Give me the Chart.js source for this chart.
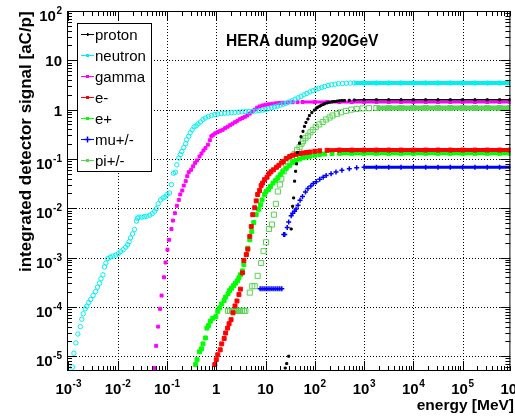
<!DOCTYPE html>
<html>
<head>
<meta charset="utf-8">
<script src="https://cdn.jsdelivr.net/npm/chart.js@4"></script>
<style>
  html, body { margin: 0; padding: 0; background: #fff; }
  canvas { display: block; }
</style>
</head>
<body>
<canvas id="dump" width="515" height="418"></canvas>
<script>
// Integrated signal per particle type, rows are [log10(E / MeV), log10(signal / aC/p)]
const proton = [
  [1.40,-5.24],[1.43,-5.15],[1.47,-5.00],[1.52,-2.42],[1.55,-1.96],[1.57,-1.79],[1.59,-1.45],
  [1.61,-1.25],[1.63,-1.10],[1.65,-0.87],[1.69,-0.68],[1.72,-0.55],[1.76,-0.44],[1.79,-0.34],
  [1.82,-0.26],[1.86,-0.19],[1.89,-0.12],[1.94,-0.06],[1.99,-0.01],[2.03,0.03],[2.06,0.05],
  [2.10,0.07],[2.13,0.09],[2.17,0.105],[2.20,0.12],[2.25,0.135],[2.30,0.15],[2.35,0.158],
  [2.40,0.165],[2.45,0.172],[2.50,0.18],[2.55,0.183],[2.60,0.186],[2.70,0.19],[2.80,0.195],
  [3.00,0.20],[3.25,0.20],[3.50,0.20],[3.75,0.20],[4.00,0.20],[4.25,0.20],[4.50,0.20],
  [4.75,0.20],[5.00,0.20],[5.25,0.20],[5.50,0.20],[5.75,0.20],[5.96,0.20]
];
const neutron = [
  [-2.92,-5.22],[-2.89,-4.94],[-2.85,-4.73],[-2.81,-4.55],[-2.76,-4.40],[-2.73,-4.25],[-2.70,-4.14],
  [-2.66,-4.04],[-2.63,-3.99],[-2.59,-3.91],[-2.55,-3.85],[-2.50,-3.77],[-2.45,-3.69],[-2.41,-3.60],
  [-2.37,-3.52],[-2.34,-3.43],[-2.30,-3.35],[-2.27,-3.19],[-2.24,-3.11],[-2.20,-3.02],[-2.15,-2.99],
  [-2.10,-2.97],[-2.04,-2.95],[-1.99,-2.92],[-1.94,-2.88],[-1.89,-2.84],[-1.84,-2.79],[-1.80,-2.74],
  [-1.77,-2.68],[-1.74,-2.60],[-1.70,-2.52],[-1.66,-2.43],[-1.62,-2.26],[-1.60,-2.20],[-1.57,-2.18],
  [-1.51,-2.18],[-1.46,-2.17],[-1.41,-2.16],[-1.35,-2.14],[-1.30,-2.11],[-1.25,-2.06],[-1.22,-2.01],
  [-1.18,-1.91],[-1.13,-1.83],[-1.08,-1.79],[-1.04,-1.77],[-1.00,-1.72],[-0.95,-1.69],[-0.91,-1.52],
  [-0.87,-1.29],[-0.83,-1.27],[-0.80,-1.12],[-0.76,-0.98],[-0.73,-0.91],[-0.70,-0.85],[-0.66,-0.77],
  [-0.62,-0.69],[-0.60,-0.61],[-0.56,-0.54],[-0.53,-0.47],[-0.49,-0.41],[-0.45,-0.35],[-0.41,-0.33],
  [-0.37,-0.29],[-0.32,-0.25],[-0.27,-0.20],[-0.22,-0.17],[-0.16,-0.14],[-0.10,-0.12],[-0.03,-0.10],
  [0.03,-0.09],[0.10,-0.08],[0.17,-0.075],[0.24,-0.07],[0.31,-0.06],[0.38,-0.055],[0.45,-0.05],
  [0.52,-0.045],[0.59,-0.04],[0.66,-0.04],[0.73,-0.035],[0.80,-0.03],[0.87,-0.02],[0.94,-0.01],
  [1.00,0.00],[1.06,0.02],[1.12,0.04],[1.18,0.055],[1.24,0.07],[1.30,0.09],[1.36,0.11],[1.42,0.13],
  [1.48,0.155],[1.54,0.18],[1.60,0.21],[1.66,0.24],[1.72,0.27],[1.78,0.30],[1.84,0.33],[1.90,0.36],
  [1.96,0.385],[2.02,0.41],[2.08,0.43],[2.14,0.45],[2.20,0.47],[2.27,0.49],[2.34,0.505],[2.41,0.515],
  [2.48,0.525],[2.56,0.53],[2.64,0.535],[2.72,0.538],[2.80,0.54],[3.00,0.54],[3.25,0.54],[3.50,0.54],
  [3.75,0.54],[4.00,0.54],[4.25,0.54],[4.50,0.54],[4.75,0.54],[5.00,0.54],[5.25,0.54],[5.50,0.54],
  [5.75,0.54],[5.96,0.54]
];
const gamma = [
  [-1.25,-5.24],[-1.22,-4.79],[-1.18,-4.40],[-1.14,-4.04],[-1.11,-3.77],[-1.06,-3.40],[-1.03,-3.10],
  [-0.99,-2.84],[-0.96,-2.64],[-0.91,-2.42],[-0.88,-2.25],[-0.84,-2.10],[-0.80,-1.95],[-0.76,-1.83],
  [-0.73,-1.72],[-0.69,-1.64],[-0.66,-1.54],[-0.62,-1.45],[-0.59,-1.35],[-0.56,-1.27],[-0.51,-1.22],
  [-0.47,-1.15],[-0.43,-1.08],[-0.39,-1.03],[-0.34,-0.95],[-0.30,-0.89],[-0.26,-0.83],[-0.22,-0.78],
  [-0.17,-0.71],[-0.13,-0.62],[-0.10,-0.54],[-0.06,-0.51],[-0.02,-0.48],[0.03,-0.455],[0.08,-0.43],
  [0.13,-0.41],[0.18,-0.375],[0.23,-0.345],[0.28,-0.315],[0.33,-0.285],[0.38,-0.255],[0.43,-0.225],
  [0.48,-0.195],[0.53,-0.17],[0.58,-0.145],[0.63,-0.12],[0.68,-0.08],[0.73,-0.04],[0.78,0.00],
  [0.83,0.04],[0.88,0.065],[0.94,0.085],[1.00,0.10],[1.07,0.11],[1.14,0.12],[1.21,0.128],
  [1.28,0.135],[1.36,0.14],[1.45,0.145],[1.55,0.15],[1.65,0.152],[1.75,0.155],[2.00,0.155],
  [2.25,0.155],[2.50,0.155],[2.75,0.155],[3.00,0.155],[3.25,0.155],[3.50,0.155],[3.75,0.155],
  [4.00,0.155],[4.25,0.155],[4.50,0.155],[4.75,0.155],[5.00,0.155],[5.25,0.155],[5.50,0.155],
  [5.75,0.155],[5.96,0.155]
];
const electron = [
  [-0.03,-5.17],[0.00,-5.07],[0.03,-4.97],[0.08,-4.87],[0.11,-4.75],[0.16,-4.64],[0.19,-4.53],
  [0.23,-4.43],[0.26,-4.34],[0.30,-4.26],[0.34,-4.12],[0.38,-3.98],[0.42,-3.88],[0.46,-3.75],
  [0.49,-3.64],[0.53,-3.31],[0.56,-3.06],[0.61,-2.94],[0.64,-2.83],[0.68,-2.57],[0.71,-2.37],
  [0.74,-2.13],[0.78,-1.99],[0.81,-1.85],[0.84,-1.72],[0.88,-1.64],[0.91,-1.54],[0.94,-1.49],
  [0.98,-1.42],[1.03,-1.37],[1.07,-1.30],[1.11,-1.26],[1.16,-1.22],[1.22,-1.17],[1.27,-1.13],
  [1.32,-1.08],[1.36,-1.05],[1.42,-0.99],[1.49,-0.95],[1.55,-0.925],[1.62,-0.905],[1.69,-0.89],
  [1.76,-0.88],[1.83,-0.87],[1.90,-0.86],[2.00,-0.845],[2.10,-0.835],[2.25,-0.825],[2.50,-0.82],
  [2.75,-0.82],[3.00,-0.82],[3.25,-0.82],[3.50,-0.82],[3.75,-0.82],[4.00,-0.82],[4.25,-0.82],
  [4.50,-0.82],[4.75,-0.82],[5.00,-0.82],[5.25,-0.82],[5.50,-0.82],[5.75,-0.82],[5.96,-0.82]
];
const positron = [
  [-0.42,-5.17],[-0.39,-5.07],[-0.34,-4.91],[-0.30,-4.85],[-0.27,-4.75],[-0.22,-4.63],[-0.19,-4.43],
  [-0.16,-4.38],[-0.12,-4.29],[-0.07,-4.23],[-0.01,-4.20],[0.03,-4.09],[0.07,-4.02],[0.11,-3.94],
  [0.16,-3.87],[0.19,-3.80],[0.24,-3.73],[0.27,-3.67],[0.31,-3.62],[0.35,-3.57],[0.39,-3.52],
  [0.43,-3.47],[0.46,-3.41],[0.49,-3.35],[0.53,-3.27],[0.56,-3.14],[0.61,-2.94],[0.64,-2.81],
  [0.68,-2.64],[0.72,-2.47],[0.76,-2.29],[0.81,-2.13],[0.86,-2.02],[0.90,-1.93],[0.93,-1.83],
  [0.98,-1.72],[1.01,-1.66],[1.06,-1.62],[1.10,-1.56],[1.15,-1.49],[1.20,-1.44],[1.25,-1.38],
  [1.30,-1.32],[1.35,-1.26],[1.42,-1.19],[1.49,-1.13],[1.55,-1.07],[1.62,-1.03],[1.69,-1.00],
  [1.76,-0.975],[1.83,-0.96],[1.90,-0.945],[2.00,-0.925],[2.10,-0.91],[2.20,-0.90],[2.35,-0.89],
  [2.50,-0.885],[2.75,-0.885],[3.00,-0.885],[3.25,-0.885],[3.50,-0.885],[3.75,-0.885],[4.00,-0.885],
  [4.25,-0.885],[4.50,-0.885],[4.75,-0.885],[5.00,-0.885],[5.25,-0.885],[5.50,-0.885],[5.75,-0.885],
  [5.96,-0.885]
];
const muon = [
  [0.89,-3.63],[0.93,-3.63],[0.97,-3.63],[1.01,-3.63],[1.05,-3.63],[1.09,-3.63],[1.13,-3.63],
  [1.17,-3.63],[1.21,-3.63],[1.25,-3.63],[1.29,-3.63],[1.33,-3.63],[1.37,-2.53],[1.39,-2.53],
  [1.44,-2.39],[1.47,-2.28],[1.52,-2.15],[1.55,-2.10],[1.59,-2.06],[1.62,-2.015],[1.66,-1.94],
  [1.70,-1.84],[1.75,-1.76],[1.81,-1.67],[1.86,-1.60],[1.92,-1.55],[1.97,-1.50],[2.03,-1.46],
  [2.10,-1.41],[2.17,-1.37],[2.23,-1.335],[2.33,-1.30],[2.43,-1.265],[2.55,-1.23],[2.70,-1.20],
  [2.85,-1.18],[3.00,-1.17],[3.25,-1.168],[3.50,-1.168],[3.75,-1.168],[4.00,-1.168],[4.25,-1.168],
  [4.50,-1.168],[4.75,-1.168],[5.00,-1.168],[5.25,-1.168],[5.50,-1.168],[5.75,-1.168],[5.96,-1.168]
];
const pion = [
  [0.24,-4.08],[0.28,-4.08],[0.32,-4.08],[0.36,-4.08],[0.40,-4.08],[0.44,-4.08],[0.48,-4.08],
  [0.52,-4.08],[0.56,-4.08],[0.59,-4.08],[0.68,-3.71],[0.73,-3.58],[0.78,-3.58],[0.84,-3.37],
  [0.91,-3.11],[0.96,-2.87],[1.01,-2.69],[1.07,-2.42],[1.13,-2.33],[1.17,-2.13],[1.21,-1.91],
  [1.25,-1.66],[1.29,-1.52],[1.32,-1.40],[1.37,-1.25],[1.42,-1.15],[1.46,-1.07],[1.49,-1.01],
  [1.54,-0.96],[1.59,-0.90],[1.64,-0.82],[1.69,-0.76],[1.73,-0.69],[1.76,-0.64],[1.81,-0.58],
  [1.86,-0.53],[1.91,-0.46],[1.96,-0.41],[2.02,-0.35],[2.09,-0.30],[2.16,-0.25],[2.23,-0.20],
  [2.30,-0.16],[2.36,-0.12],[2.45,-0.085],[2.53,-0.055],[2.63,-0.025],[2.74,0.00],[2.85,0.015],
  [2.97,0.025],[3.10,0.03],[3.25,0.034],[3.50,0.034],[3.75,0.034],[4.00,0.034],[4.25,0.034],
  [4.50,0.034],[4.75,0.034],[5.00,0.034],[5.25,0.034],[5.50,0.034],[5.75,0.034],[5.96,0.034]
];

const seriesNames = ['proton', 'neutron', 'gamma', 'e-', 'e+', 'mu+/-', 'pi+/-'];
const seriesRows = [proton, neutron, gamma, electron, positron, muon, pion];
const seriesColors = ['#000000', '#00f0f0', '#ff00ff', '#ff0000', '#00ff00', '#0000ff', '#59d454'];

const xTickExp = [-3, -2, -1, 0, 1, 2, 3, 4, 5, 6];
const yTickExp = [-5, -4, -3, -2, -1, 0, 1, 2];

const titleText = 'HERA dump 920GeV';
const xTitle = 'energy [MeV]';
const yTitle = 'integrated detector signal [aC/p]';

const FONT = "'Liberation Sans', Arial, Helvetica, sans-serif";

// marker look for each series; band = width of the line drawn along flat stretches
const markers = [
  { style: 'rect', radius: 1.4, filled: true, border: 1, band: 1.5 },
  { style: 'circle', radius: 2.2, filled: false, border: 1, band: 4 },
  { style: 'rect', radius: 2.1, filled: true, border: 1, band: 3 },
  { style: 'rect', radius: 2.8, filled: true, border: 1, band: 4 },
  { style: 'rect', radius: 2.8, filled: true, border: 1, band: 4 },
  { style: 'cross', radius: 2.5, filled: false, border: 1.5, band: 3 },
  { style: 'rect', radius: 3.6, filled: false, border: 1, band: 5 }
];

const toPoints = rows => rows.map(([e, s]) => ({ x: Math.pow(10, e), y: Math.pow(10, s) }));

// only join neighbouring markers where they are spread out along a plateau
const plateau = (ctx, color) =>
  (Math.abs(ctx.p1.x - ctx.p0.x) > 8 && Math.abs(ctx.p1.y - ctx.p0.y) < 2) ? color : 'rgba(0,0,0,0)';

const datasets = seriesNames.map((name, i) => {
  const m = markers[i];
  const c = seriesColors[i];
  return {
    label: name,
    data: toPoints(seriesRows[i]),
    showLine: true,
    borderColor: c,
    borderWidth: m.band,
    borderCapStyle: 'butt',
    segment: { borderColor: ctx => plateau(ctx, c) },
    pointStyle: m.style,
    pointRadius: m.radius,
    pointHoverRadius: m.radius,
    pointBorderWidth: m.border,
    pointBorderColor: c,
    pointBackgroundColor: m.filled ? c : 'rgba(0,0,0,0)',
    fill: false,
    tension: 0
  };
});

function logTicks(scale) {
  const out = [];
  const lo = Math.floor(Math.log10(scale.min));
  const hi = Math.ceil(Math.log10(scale.max));
  for (let n = lo; n <= hi; n++) {
    for (let m = 1; m <= 9; m++) {
      const v = m * Math.pow(10, n);
      if (v >= scale.min * 0.999 && v <= scale.max * 1.001) {
        out.push({ px: scale.getPixelForValue(v), major: m === 1 });
      }
    }
  }
  return out;
}

// "10^n" label, with 1 and 10 written plainly
function powerLabel(ctx, exp, x, baseY, align) {
  const base = exp === 0 ? '1' : '10';
  const sup = (exp === 0 || exp === 1) ? '' : String(exp);
  ctx.font = 'bold 15px ' + FONT;
  const wb = ctx.measureText(base).width;
  ctx.font = 'bold 10px ' + FONT;
  const ws = sup ? ctx.measureText(sup).width + 0.5 : 0;
  const total = wb + ws;
  const start = align === 'center' ? x - total / 2 : x - total;
  ctx.textAlign = 'left';
  ctx.textBaseline = 'alphabetic';
  ctx.font = 'bold 15px ' + FONT;
  ctx.fillText(base, start, baseY);
  if (sup) {
    ctx.font = 'bold 10px ' + FONT;
    ctx.fillText(sup, start + wb + 0.5, baseY - 7);
  }
}

const rootFrame = {
  id: 'rootFrame',
  beforeDraw(chart) {
    const ctx = chart.ctx;
    ctx.save();
    ctx.fillStyle = '#fff';
    ctx.fillRect(0, 0, chart.width, chart.height);
    ctx.restore();
  },
  beforeDatasetsDraw(chart) {
    const { ctx, chartArea: a, scales } = chart;
    ctx.save();
    ctx.strokeStyle = '#000';
    ctx.lineWidth = 1;
    ctx.setLineDash([1, 2]);
    xTickExp.forEach(e => {
      const px = Math.round(scales.x.getPixelForValue(Math.pow(10, e))) + 0.5;
      if (px < a.left + 3 || px > a.right - 3) return;
      ctx.beginPath(); ctx.moveTo(px, a.top); ctx.lineTo(px, a.bottom); ctx.stroke();
    });
    yTickExp.forEach(e => {
      const py = Math.round(scales.y.getPixelForValue(Math.pow(10, e))) + 0.5;
      if (py < a.top + 3 || py > a.bottom - 3) return;
      ctx.beginPath(); ctx.moveTo(a.left, py); ctx.lineTo(a.right, py); ctx.stroke();
    });
    ctx.restore();
  },
  afterDatasetsDraw(chart) {
    const { ctx, chartArea: a, scales } = chart;
    ctx.save();
    ctx.strokeStyle = '#000';
    ctx.lineWidth = 1;
    ctx.setLineDash([]);

    // tick marks on all four sides, pointing inwards
    logTicks(scales.x).forEach(t => {
      const px = Math.round(t.px) + 0.5;
      const len = t.major ? 10 : 5;
      ctx.beginPath();
      ctx.moveTo(px, a.bottom); ctx.lineTo(px, a.bottom - len);
      ctx.moveTo(px, a.top); ctx.lineTo(px, a.top + len);
      ctx.stroke();
    });
    logTicks(scales.y).forEach(t => {
      const py = Math.round(t.px) + 0.5;
      const len = t.major ? 10 : 5;
      ctx.beginPath();
      ctx.moveTo(a.left, py); ctx.lineTo(a.left + len, py);
      ctx.moveTo(a.right, py); ctx.lineTo(a.right - len, py);
      ctx.stroke();
    });

    // frame
    ctx.strokeRect(a.left + 0.5, a.top + 0.5, a.right - a.left - 1, a.bottom - a.top - 1);

    // tick labels
    ctx.fillStyle = '#000';
    xTickExp.forEach(e => {
      const px = scales.x.getPixelForValue(Math.pow(10, e));
      powerLabel(ctx, e, px, a.bottom + 22.5, 'center');
    });
    yTickExp.forEach(e => {
      const py = scales.y.getPixelForValue(Math.pow(10, e));
      const plain = e === 0 || e === 1;
      powerLabel(ctx, e, 62, py + (plain ? 6 : 10), 'right');
    });

    // titles
    ctx.textAlign = 'left';
    ctx.textBaseline = 'alphabetic';
    ctx.font = 'bold 15.6px ' + FONT;
    ctx.fillText(titleText, 226, 45.5);

    ctx.textAlign = 'right';
    ctx.font = 'bold 15.5px ' + FONT;
    ctx.fillText(xTitle, 514, 410);

    ctx.save();
    ctx.translate(30.5, 141.7);
    ctx.rotate(-Math.PI / 2);
    ctx.textAlign = 'center';
    ctx.font = 'bold 17px ' + FONT;
    ctx.fillText(yTitle, 0, 0);
    ctx.restore();

    // legend box
    ctx.textAlign = 'left';
    const lx = 77.5, ly = 23.5, lw = 74, lh = 148;
    ctx.fillStyle = '#fff';
    ctx.fillRect(lx, ly, lw, lh);
    ctx.strokeRect(lx, ly, lw, lh);
    chart.data.datasets.forEach((ds, i) => {
      const y = 34 + 21 * i;
      const c = ds.pointBorderColor;
      ctx.strokeStyle = c;
      ctx.lineWidth = 1;
      ctx.beginPath(); ctx.moveTo(81, y + 0.5); ctx.lineTo(94, y + 0.5); ctx.stroke();
      ctx.fillStyle = c;
      if (ds.pointStyle === 'cross') {
        ctx.lineWidth = 1.5;
        ctx.beginPath();
        ctx.moveTo(87.5, y - 2.5); ctx.lineTo(87.5, y + 3.5);
        ctx.moveTo(84.5, y + 0.5); ctx.lineTo(90.5, y + 0.5);
        ctx.stroke();
      } else if (i === 0) {
        ctx.fillRect(87, y - 1, 1.5, 3);
      } else {
        ctx.fillRect(86, y - 1, 3, 3);
      }
      ctx.fillStyle = '#000';
      ctx.font = '15px ' + FONT;
      ctx.fillText(ds.label, 95, y + 5.5);
    });
    ctx.restore();
  }
};

new Chart(document.getElementById('dump'), {
  type: 'scatter',
  data: { datasets },
  options: {
    responsive: false,
    animation: false,
    events: [],
    layout: { padding: { left: 67, right: 4, top: 11, bottom: 47 } },
    scales: {
      x: { type: 'logarithmic', display: false, min: Math.pow(10, -3.03), max: Math.pow(10, 5.97) },
      y: { type: 'logarithmic', display: false, min: Math.pow(10, -5.3), max: 100 }
    },
    plugins: { legend: { display: false }, tooltip: { enabled: false } }
  },
  plugins: [rootFrame]
});
</script>
</body>
</html>
